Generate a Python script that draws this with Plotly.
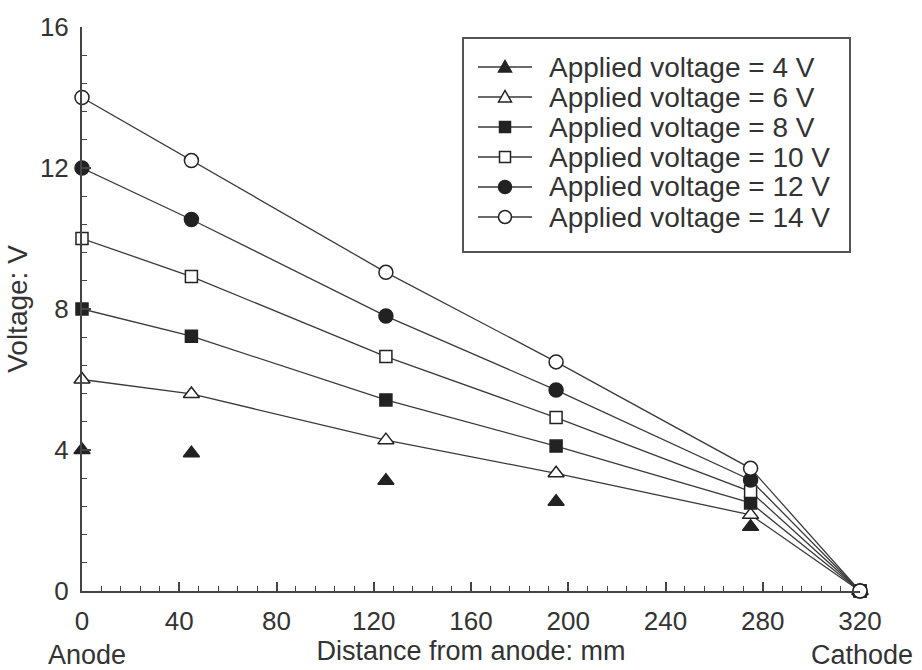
import plotly.graph_objects as go

# Measurement positions along the cell (mm from anode)
distance_mm = [0, 45, 125, 195, 275, 320]

# Measured potential (V) at each position for each applied voltage
v_4 = [4.0, 3.91, 3.13, 2.53, 1.82, 0.0]
v_6 = [6.0, 5.59, 4.28, 3.34, 2.16, 0.0]
v_8 = [8.0, 7.23, 5.42, 4.11, 2.50, 0.0]
v_10 = [10.0, 8.92, 6.65, 4.92, 2.82, 0.0]
v_12 = [12.0, 10.54, 7.80, 5.70, 3.15, 0.0]
v_14 = [14.0, 12.21, 9.04, 6.50, 3.48, 0.0]

series_labels = [
    "Applied voltage = 4 V",
    "Applied voltage = 6 V",
    "Applied voltage = 8 V",
    "Applied voltage = 10 V",
    "Applied voltage = 12 V",
    "Applied voltage = 14 V",
]

x_ticks = [0, 40, 80, 120, 160, 200, 240, 280, 320]
y_ticks = [0, 4, 8, 12, 16]

INK = "#222222"
AXIS = "#444444"
LINE = "#3a3a3a"
TEXT = "#333333"
FONT = "Liberation Sans, Arial, sans-serif"

W, H = 922, 670
ML, MR, MT, MB = 82, 62, 27, 79
PW, PH = W - ML - MR, H - MT - MB


def px_x(px):
    """Horizontal page pixel -> paper fraction."""
    return (px - ML) / PW


def px_y(py):
    """Vertical page pixel (from top) -> paper fraction."""
    return (H - MB - py) / PH


styles = [
    dict(symbol="triangle-up", fill=INK, size=14),
    dict(symbol="triangle-up", fill="white", size=14),
    dict(symbol="square", fill=INK, size=12),
    dict(symbol="square", fill="white", size=12),
    dict(symbol="circle", fill=INK, size=14),
    dict(symbol="circle", fill="white", size=14),
]

fig = go.Figure()

series = [v_4, v_6, v_8, v_10, v_12, v_14]
for i, (vals, label, st) in enumerate(zip(series, series_labels, styles)):
    marker = dict(
        symbol=st["symbol"],
        size=st["size"],
        color=st["fill"],
        line=dict(color=INK, width=1.5),
    )
    # 4 V readings are shown as isolated points, the others as polylines
    fig.add_trace(go.Scatter(
        x=distance_mm, y=vals,
        mode="markers" if i == 0 else "lines+markers",
        name=label, marker=marker,
        line=dict(color=LINE, width=1.3),
        cliponaxis=False, showlegend=False,
    ))

# Boxed key in the upper right of the plot
shapes = [dict(
    type="rect", xref="paper", yref="paper",
    x0=px_x(463), x1=px_x(850), y0=px_y(252), y1=px_y(38),
    line=dict(color="#555555", width=2), fillcolor="white", layer="above",
)]
annotations = []
row_top, row_step = 67, 30
key_x0, key_x1, key_mid, text_x = 478, 532, 505, 547
for i, (label, st) in enumerate(zip(series_labels, styles)):
    yc = px_y(row_top + i * row_step)
    shapes.append(dict(
        type="line", xref="paper", yref="paper",
        x0=px_x(key_x0), x1=px_x(key_x1), y0=yc, y1=yc,
        line=dict(color=LINE, width=1.3), layer="above",
    ))
    common = dict(
        xref="paper", yref="paper", xsizemode="pixel", ysizemode="pixel",
        xanchor=px_x(key_mid), yanchor=yc,
        fillcolor=st["fill"], line=dict(color=INK, width=1.5), layer="above",
    )
    if st["symbol"] == "circle":
        shapes.append(dict(type="circle", x0=-6.5, x1=6.5, y0=-6.5, y1=6.5, **common))
    elif st["symbol"] == "square":
        shapes.append(dict(type="rect", x0=-5.5, x1=5.5, y0=-5.5, y1=5.5, **common))
    else:
        shapes.append(dict(type="path", path="M-6.5,-5 L6.5,-5 L0,6.5 Z", **common))
    annotations.append(dict(
        x=px_x(text_x), y=yc, xref="paper", yref="paper",
        xanchor="left", yanchor="middle", showarrow=False,
        text=label, font=dict(size=28, color=TEXT),
    ))

# End-point labels under the distance axis
for xpos, text, shift in [(0, "Anode", 5), (320, "Cathode", 2)]:
    annotations.append(dict(
        x=xpos, y=0, xref="x", yref="paper",
        text=text, showarrow=False,
        yanchor="middle", yshift=-64, xshift=shift,
        font=dict(size=27, color=TEXT),
    ))

fig.update_layout(
    width=W,
    height=H,
    margin=dict(l=ML, r=MR, t=MT, b=MB),
    paper_bgcolor="white",
    plot_bgcolor="white",
    font=dict(family=FONT, color=TEXT, size=25),
    showlegend=False,
    shapes=shapes,
    annotations=annotations,
    xaxis=dict(
        range=[0, 320],
        tickmode="array", tickvals=x_ticks,
        ticks="inside", ticklen=9, tickwidth=1.5, tickcolor=AXIS,
        minor=dict(dtick=8, ticks="inside", ticklen=5, tickwidth=1.2, tickcolor=AXIS),
        showline=True, linecolor=AXIS, linewidth=2,
        showgrid=False, zeroline=False,
        tickfont=dict(size=26),
        ticklabelstandoff=6,
        title=dict(text="Distance from anode: mm", font=dict(size=27), standoff=4),
    ),
    yaxis=dict(
        range=[0, 16],
        tickmode="array", tickvals=y_ticks,
        ticks="inside", ticklen=9, tickwidth=1.5, tickcolor=AXIS,
        minor=dict(dtick=0.8, ticks="inside", ticklen=5, tickwidth=1.2, tickcolor=AXIS),
        showline=True, linecolor=AXIS, linewidth=2,
        showgrid=False, zeroline=False,
        tickfont=dict(size=26),
        ticklabelstandoff=6,
        title=dict(text="Voltage: V", font=dict(size=28), standoff=4),
    ),
)

fig.write_html("out.html")
